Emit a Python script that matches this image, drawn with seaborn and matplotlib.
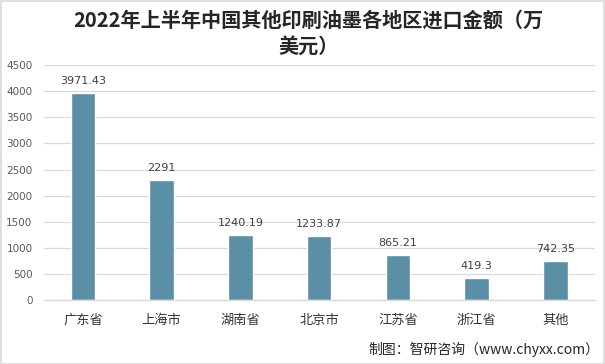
import matplotlib
matplotlib.use("Agg")
import matplotlib.pyplot as plt
import seaborn as sns
import pandas as pd

categories = ["广东省", "上海市", "湖南省", "北京市", "江苏省", "浙江省", "其他"]
values = [3971.43, 2291, 1240.19, 1233.87, 865.21, 419.3, 742.35]
labels = ["3971.43", "2291", "1240.19", "1233.87", "865.21", "419.3", "742.35"]
yticks = [0, 500, 1000, 1500, 2000, 2500, 3000, 3500, 4000, 4500]

sns.set_theme(style="white")
plt.rcParams['font.family'] = ['Noto Sans CJK SC', 'DejaVu Sans']

df = pd.DataFrame({"region": categories, "value": values})

fig = plt.figure(figsize=(6.05, 3.64), dpi=100)
ax = fig.add_axes([0.072, 0.176, 0.911, 0.645])
sns.barplot(data=df, x="region", y="value", color="#5b8fa6", width=0.31,
            saturation=1, ax=ax)

ax.set_ylim(0, 4500)
ax.set_yticks(yticks)
ax.set_yticklabels([str(t) for t in yticks], fontsize=7.5, color="#595959",
                   family=['DejaVu Sans'])
ax.tick_params(axis='y', length=0, pad=8)
ax.tick_params(axis='x', length=0, pad=10, labelsize=9.5, labelcolor="#333333")
ax.set_xlabel("")
ax.set_ylabel("")
ax.yaxis.grid(True, color="#d9d9d9", linewidth=0.9)
ax.set_axisbelow(True)
for s in ["top", "right", "left"]:
    ax.spines[s].set_visible(False)
ax.spines["bottom"].set_color("#d9d9d9")
ax.spines["bottom"].set_linewidth(1.0)

for i, (v, lab) in enumerate(zip(values, labels)):
    ax.annotate(lab, (i, v), xytext=(0, 5), textcoords="offset points",
                ha="center", va="bottom", fontsize=8, color="#404040",
                family=['DejaVu Sans'])

fig.text(0.51, 0.974, "2022年上半年中国其他印刷油墨各地区进口金额（万\n美元）",
         ha="center", va="top", fontsize=14.5, fontweight="bold",
         color="#262626", linespacing=1.3)
fig.text(0.99, 0.02, "制图：智研咨询（www.chyxx.com）", ha="right", va="bottom",
         fontsize=10, color="#262626")

border = plt.Rectangle((0.001, 0.001), 0.997, 0.997, transform=fig.transFigure,
                       fill=False, edgecolor="#d9d9d9", linewidth=1.2)
fig.patches.append(border)

fig.savefig("out.png", dpi=100)
